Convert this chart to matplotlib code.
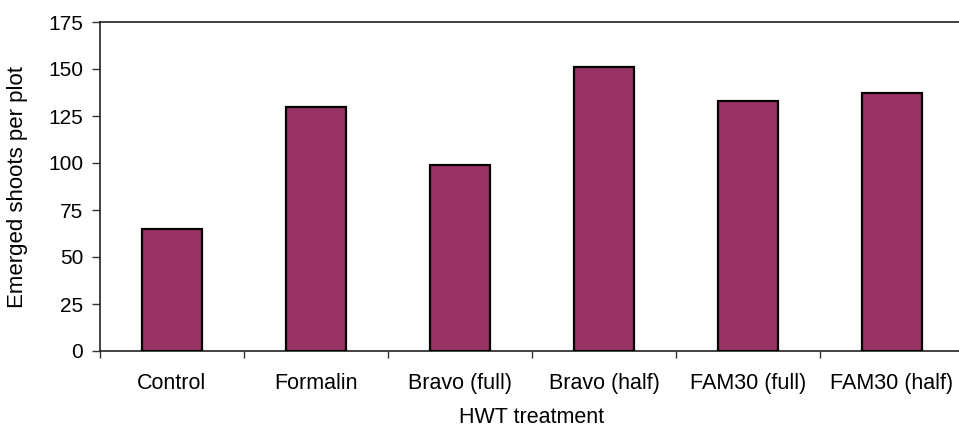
import numpy as np
import matplotlib
matplotlib.use('Agg')
import matplotlib.pyplot as plt

plt.rcParams['font.family'] = ['Liberation Sans', 'DejaVu Sans']

treatments = ['Control', 'Formalin', 'Bravo (full)', 'Bravo (half)', 'FAM30 (full)', 'FAM30 (half)']
shoots = [65, 130, 99, 151, 133, 137]
yticks = [0, 25, 50, 75, 100, 125, 150, 175]

W, H = 959, 428
fig = plt.figure(figsize=(W / 100, H / 100), dpi=100)
# plot area runs slightly past the right edge of the figure
ax = fig.add_axes([100 / W, 1 - 351 / H, 864 / W, 329 / H])

x = np.arange(len(treatments))
ax.bar(x, shoots, width=0.41, color='#993366', edgecolor='black', linewidth=1.6, zorder=3)

ax.set_xlim(-0.5, len(treatments) - 0.5)
ax.set_ylim(0, 175)
ax.set_yticks(yticks)
ax.set_yticklabels([str(v) for v in yticks], fontsize=15)

# category labels sit between the boundary ticks
ax.set_xticks(np.arange(len(treatments) + 1) - 0.5)
ax.set_xticklabels([])
ax.set_xticks(x, minor=True)
ax.set_xticklabels(treatments, minor=True, fontsize=15.5)
ax.tick_params(axis='x', which='minor', length=0, pad=16)
ax.tick_params(axis='x', which='major', length=5, width=1, color='#333333', direction='out')
ax.tick_params(axis='y', length=6, width=1, color='#333333', direction='out', pad=6)

for side in ['left', 'bottom', 'top']:
    ax.spines[side].set_color('#222222')
    ax.spines[side].set_linewidth(1.2)
ax.spines['right'].set_visible(False)

ax.set_ylabel('Emerged shoots per plot', fontsize=16)
ax.yaxis.set_label_coords(-72 / 864, 0.5)
ax.set_xlabel('HWT treatment', fontsize=15.5)
ax.xaxis.set_label_coords(432 / 864, -56 / 329)

fig.savefig('out.png', dpi=100)
